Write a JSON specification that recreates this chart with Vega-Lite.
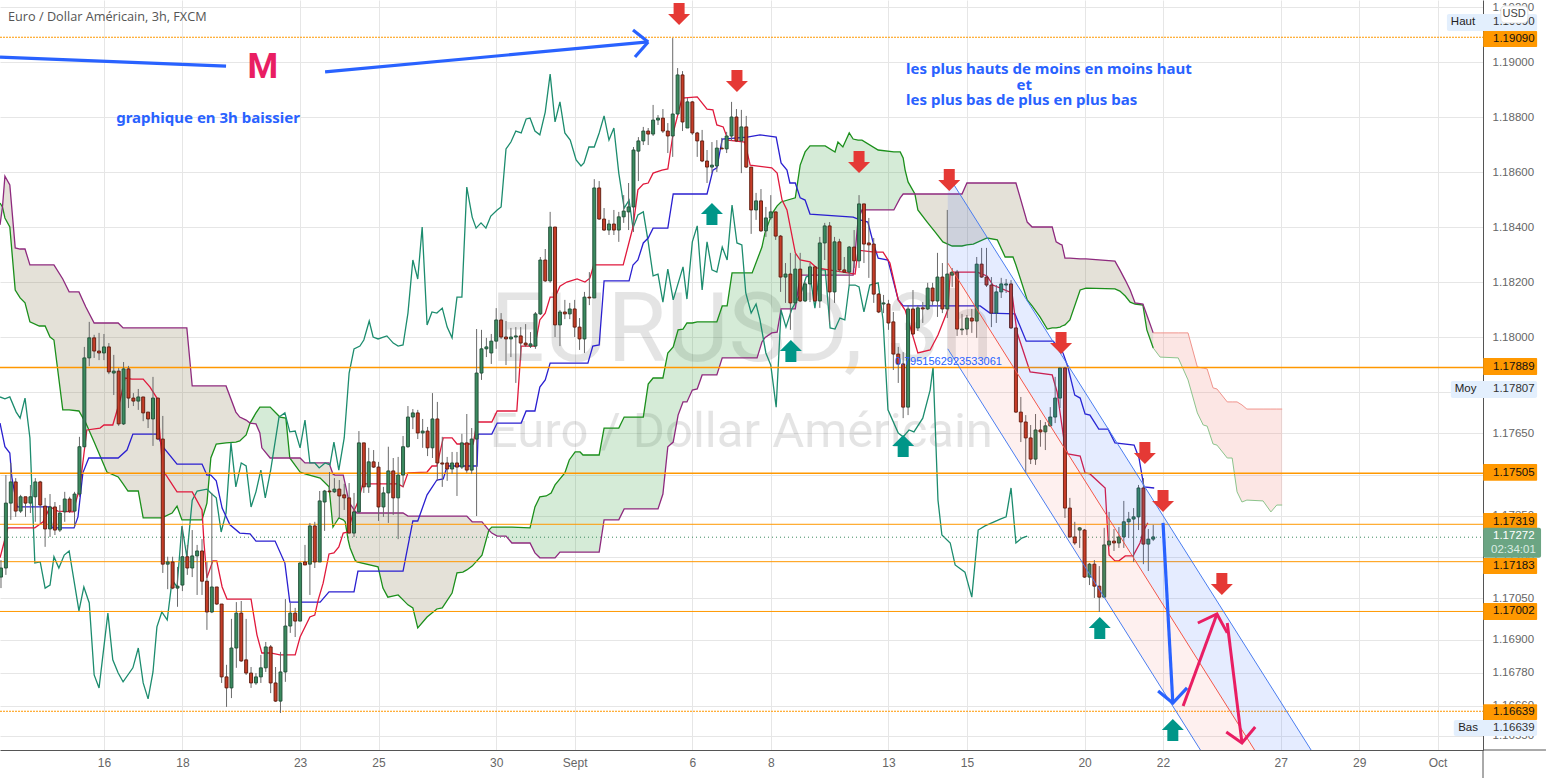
{
"$schema":"https://vega.github.io/schema/vega-lite/v6.json",
"width":1483,"height":750,"autosize":"none",
"padding":{"left":0,"top":0,"right":63,"bottom":28},
"background":"white",
"config":{"view":{"stroke":null},"font":"Liberation Sans"},
"datasets":{
"candles":[
{"i":-1,"o":1.17127,"h":1.17189,"l":1.17087,"c":1.1716},{"i":0,"o":1.1716,"h":1.17498,"l":1.17135,"c":1.17396},{"i":1,"o":1.17396,"h":1.17542,"l":1.17335,"c":1.17473},{"i":2,"o":1.17473,"h":1.17487,"l":1.17346,"c":1.17367},{"i":3,"o":1.17367,"h":1.17426,"l":1.1736,"c":1.17419},{"i":4,"o":1.17419,"h":1.17419,"l":1.17346,"c":1.17396},{"i":5,"o":1.17396,"h":1.17462,"l":1.1736,"c":1.17419},{"i":6,"o":1.17419,"h":1.17487,"l":1.17328,"c":1.17473},{"i":7,"o":1.17473,"h":1.17477,"l":1.17324,"c":1.17389},{"i":8,"o":1.17385,"h":1.17415,"l":1.17237,"c":1.17302},
{"i":9,"o":1.17302,"h":1.17429,"l":1.17273,"c":1.17382},{"i":10,"o":1.17382,"h":1.174,"l":1.1728,"c":1.17298},{"i":11,"o":1.17298,"h":1.17389,"l":1.17291,"c":1.1736},{"i":12,"o":1.17364,"h":1.17437,"l":1.17328,"c":1.17411},{"i":13,"o":1.17411,"h":1.17419,"l":1.1736,"c":1.17367},{"i":14,"o":1.17367,"h":1.17437,"l":1.1731,"c":1.17429},{"i":15,"o":1.17429,"h":1.17637,"l":1.17419,"c":1.17601},{"i":16,"o":1.17601,"h":1.17964,"l":1.17597,"c":1.17924},{"i":17,"o":1.17924,"h":1.18055,"l":1.17894,"c":1.17997},{"i":18,"o":1.17997,"h":1.18008,"l":1.17924,"c":1.17949},
{"i":19,"o":1.17949,"h":1.18015,"l":1.17916,"c":1.17942},{"i":20,"o":1.17942,"h":1.18011,"l":1.17916,"c":1.17964},{"i":21,"o":1.17964,"h":1.17978,"l":1.17865,"c":1.17873},{"i":22,"o":1.17869,"h":1.17935,"l":1.17789,"c":1.17876},{"i":23,"o":1.17876,"h":1.17887,"l":1.17677,"c":1.17684},{"i":24,"o":1.17684,"h":1.17909,"l":1.1768,"c":1.17884},{"i":25,"o":1.17884,"h":1.17895,"l":1.17742,"c":1.17778},{"i":26,"o":1.17778,"h":1.17796,"l":1.17749,"c":1.17767},{"i":27,"o":1.17767,"h":1.17811,"l":1.17735,"c":1.17782},{"i":28,"o":1.17782,"h":1.17782,"l":1.17694,"c":1.17724},
{"i":29,"o":1.17727,"h":1.17727,"l":1.17669,"c":1.17702},{"i":30,"o":1.17702,"h":1.17855,"l":1.17604,"c":1.17778},{"i":31,"o":1.17778,"h":1.17778,"l":1.17626,"c":1.17629},{"i":32,"o":1.17629,"h":1.17713,"l":1.17142,"c":1.17174},{"i":33,"o":1.17174,"h":1.17201,"l":1.17083,"c":1.17182},{"i":34,"o":1.17182,"h":1.17201,"l":1.17083,"c":1.17087},{"i":35,"o":1.17087,"h":1.17164,"l":1.17019,"c":1.17094},{"i":36,"o":1.17098,"h":1.1731,"l":1.17076,"c":1.17201},{"i":37,"o":1.17201,"h":1.17244,"l":1.17135,"c":1.1716},{"i":38,"o":1.1716,"h":1.17298,"l":1.17127,"c":1.17204},
{"i":39,"o":1.17204,"h":1.17244,"l":1.17062,"c":1.17222},{"i":40,"o":1.17222,"h":1.17265,"l":1.17062,"c":1.17112},{"i":41,"o":1.17112,"h":1.17182,"l":1.16935,"c":1.17},{"i":42,"o":1.17,"h":1.17433,"l":1.16996,"c":1.17091},{"i":43,"o":1.17091,"h":1.17091,"l":1.17026,"c":1.17029},{"i":44,"o":1.17029,"h":1.17029,"l":1.16742,"c":1.16764},{"i":45,"o":1.16764,"h":1.16808,"l":1.16655,"c":1.16724},{"i":46,"o":1.16724,"h":1.16975,"l":1.16687,"c":1.16869},{"i":47,"o":1.16869,"h":1.17036,"l":1.16797,"c":1.16996},{"i":48,"o":1.16996,"h":1.1704,"l":1.16819,"c":1.16822},
{"i":49,"o":1.16826,"h":1.16975,"l":1.16771,"c":1.16778},{"i":50,"o":1.16778,"h":1.168,"l":1.16724,"c":1.16742},{"i":51,"o":1.16742,"h":1.16778,"l":1.16735,"c":1.16764},{"i":52,"o":1.16764,"h":1.16844,"l":1.16742,"c":1.16797},{"i":53,"o":1.16797,"h":1.16891,"l":1.16782,"c":1.16873},{"i":54,"o":1.16873,"h":1.1688,"l":1.16705,"c":1.16742},{"i":55,"o":1.16742,"h":1.168,"l":1.16673,"c":1.16676},{"i":56,"o":1.16676,"h":1.16855,"l":1.16633,"c":1.16782},{"i":57,"o":1.16782,"h":1.17047,"l":1.16746,"c":1.16949},{"i":58,"o":1.16949,"h":1.17033,"l":1.16924,"c":1.16996},
{"i":59,"o":1.16996,"h":1.17015,"l":1.16909,"c":1.16967},{"i":60,"o":1.16967,"h":1.17182,"l":1.16967,"c":1.17178},{"i":61,"o":1.17182,"h":1.17244,"l":1.17171,"c":1.17171},{"i":62,"o":1.17174,"h":1.17324,"l":1.17062,"c":1.17313},{"i":63,"o":1.17313,"h":1.17328,"l":1.1716,"c":1.17182},{"i":64,"o":1.17182,"h":1.1744,"l":1.17182,"c":1.17404},{"i":65,"o":1.174,"h":1.17444,"l":1.17295,"c":1.1744},{"i":66,"o":1.1744,"h":1.17509,"l":1.17437,"c":1.17437},{"i":67,"o":1.17437,"h":1.17487,"l":1.17433,"c":1.17447},{"i":68,"o":1.17447,"h":1.1748,"l":1.17342,"c":1.17422},
{"i":69,"o":1.17426,"h":1.17466,"l":1.17371,"c":1.17415},{"i":70,"o":1.17415,"h":1.17469,"l":1.17287,"c":1.17287},{"i":71,"o":1.17287,"h":1.17433,"l":1.17273,"c":1.17364},{"i":72,"o":1.17364,"h":1.17658,"l":1.1736,"c":1.17615},{"i":73,"o":1.17615,"h":1.17615,"l":1.17433,"c":1.17455},{"i":74,"o":1.17455,"h":1.17597,"l":1.17433,"c":1.17546},{"i":75,"o":1.17546,"h":1.17589,"l":1.17524,"c":1.17527},{"i":76,"o":1.17527,"h":1.17546,"l":1.17331,"c":1.17382},{"i":77,"o":1.17382,"h":1.17455,"l":1.17346,"c":1.17433},{"i":78,"o":1.17433,"h":1.17601,"l":1.17324,"c":1.17513},
{"i":79,"o":1.17513,"h":1.1756,"l":1.17353,"c":1.17415},{"i":80,"o":1.17415,"h":1.17564,"l":1.17265,"c":1.17498},{"i":81,"o":1.17498,"h":1.1764,"l":1.17455,"c":1.17601},{"i":82,"o":1.17601,"h":1.17749,"l":1.17597,"c":1.17709},{"i":83,"o":1.17709,"h":1.17738,"l":1.17665,"c":1.17724},{"i":84,"o":1.17724,"h":1.17735,"l":1.17629,"c":1.17651},{"i":85,"o":1.17651,"h":1.17702,"l":1.17597,"c":1.17658},{"i":86,"o":1.17658,"h":1.17673,"l":1.17567,"c":1.17597},{"i":87,"o":1.17597,"h":1.17796,"l":1.1756,"c":1.17702},{"i":88,"o":1.17702,"h":1.17764,"l":1.17477,"c":1.17542},
{"i":89,"o":1.17542,"h":1.17637,"l":1.17455,"c":1.17538},{"i":90,"o":1.17542,"h":1.17564,"l":1.17477,"c":1.1752},{"i":91,"o":1.1752,"h":1.17582,"l":1.17502,"c":1.17542},{"i":92,"o":1.17542,"h":1.17582,"l":1.17422,"c":1.17527},{"i":93,"o":1.17527,"h":1.17648,"l":1.1752,"c":1.17615},{"i":94,"o":1.17615,"h":1.1772,"l":1.17506,"c":1.17516},{"i":95,"o":1.17516,"h":1.17669,"l":1.17502,"c":1.17629},{"i":96,"o":1.17629,"h":1.18029,"l":1.17349,"c":1.17869},{"i":97,"o":1.17869,"h":1.18026,"l":1.17844,"c":1.17957},{"i":98,"o":1.17957,"h":1.17997,"l":1.17927,"c":1.17964},
{"i":99,"o":1.17942,"h":1.18011,"l":1.17902,"c":1.17985},{"i":100,"o":1.17985,"h":1.18105,"l":1.17957,"c":1.18062},{"i":101,"o":1.18062,"h":1.18087,"l":1.17993,"c":1.18},{"i":102,"o":1.18,"h":1.18058,"l":1.17898,"c":1.17993},{"i":103,"o":1.17993,"h":1.18033,"l":1.17927,"c":1.18},{"i":104,"o":1.18,"h":1.18036,"l":1.17833,"c":1.18004},{"i":105,"o":1.18004,"h":1.18036,"l":1.17916,"c":1.17978},{"i":106,"o":1.17978,"h":1.18047,"l":1.17964,"c":1.17971},{"i":107,"o":1.17967,"h":1.18018,"l":1.1796,"c":1.17975},{"i":108,"o":1.17967,"h":1.18091,"l":1.17957,"c":1.18084},
{"i":109,"o":1.18084,"h":1.18291,"l":1.1808,"c":1.1828},{"i":110,"o":1.1828,"h":1.1832,"l":1.182,"c":1.18204},{"i":111,"o":1.18204,"h":1.18455,"l":1.18197,"c":1.184},{"i":112,"o":1.184,"h":1.184,"l":1.18,"c":1.18044},{"i":113,"o":1.18044,"h":1.18098,"l":1.17967,"c":1.18091},{"i":114,"o":1.18091,"h":1.18135,"l":1.18065,"c":1.18084},{"i":115,"o":1.18084,"h":1.18124,"l":1.18065,"c":1.18102},{"i":116,"o":1.18102,"h":1.18135,"l":1.18,"c":1.18036},{"i":117,"o":1.18036,"h":1.18069,"l":1.17953,"c":1.17993},{"i":118,"o":1.17993,"h":1.18164,"l":1.17942,"c":1.18145},
{"i":119,"o":1.18145,"h":1.18236,"l":1.18116,"c":1.18142},{"i":120,"o":1.18142,"h":1.18574,"l":1.18142,"c":1.18542},{"i":121,"o":1.18542,"h":1.18567,"l":1.18426,"c":1.18429},{"i":122,"o":1.18429,"h":1.18469,"l":1.18386,"c":1.18389},{"i":123,"o":1.18389,"h":1.18426,"l":1.18371,"c":1.18411},{"i":124,"o":1.18411,"h":1.18462,"l":1.18371,"c":1.18389},{"i":125,"o":1.18389,"h":1.18455,"l":1.18346,"c":1.18437},{"i":126,"o":1.18437,"h":1.18516,"l":1.18415,"c":1.18458},{"i":127,"o":1.18455,"h":1.1856,"l":1.18389,"c":1.18473},{"i":128,"o":1.18473,"h":1.18691,"l":1.18382,"c":1.1868},
{"i":129,"o":1.18676,"h":1.18727,"l":1.18567,"c":1.18713},{"i":130,"o":1.18713,"h":1.18764,"l":1.18698,"c":1.18749},{"i":131,"o":1.18749,"h":1.1876,"l":1.18698,"c":1.18738},{"i":132,"o":1.18738,"h":1.18844,"l":1.18731,"c":1.18789},{"i":133,"o":1.18789,"h":1.18807,"l":1.18771,"c":1.18796},{"i":134,"o":1.18796,"h":1.18829,"l":1.18742,"c":1.18749},{"i":135,"o":1.18749,"h":1.18778,"l":1.18669,"c":1.18731},{"i":136,"o":1.18731,"h":1.19087,"l":1.18655,"c":1.18811},{"i":137,"o":1.18811,"h":1.18978,"l":1.18807,"c":1.18953},{"i":138,"o":1.18953,"h":1.18967,"l":1.18749,"c":1.18782},
{"i":139,"o":1.1876,"h":1.18869,"l":1.1876,"c":1.18855},{"i":140,"o":1.18855,"h":1.18858,"l":1.18735,"c":1.18742},{"i":141,"o":1.18742,"h":1.18746,"l":1.18655,"c":1.18713},{"i":142,"o":1.18713,"h":1.18753,"l":1.18636,"c":1.1864},{"i":143,"o":1.1864,"h":1.1868,"l":1.1856,"c":1.18618},{"i":144,"o":1.18618,"h":1.18709,"l":1.18596,"c":1.18625},{"i":145,"o":1.18622,"h":1.18716,"l":1.186,"c":1.18687},{"i":146,"o":1.18687,"h":1.18724,"l":1.18684,"c":1.18684},{"i":147,"o":1.18684,"h":1.18746,"l":1.18669,"c":1.18731},{"i":148,"o":1.18731,"h":1.18855,"l":1.18713,"c":1.188},
{"i":149,"o":1.188,"h":1.18829,"l":1.18709,"c":1.18713},{"i":150,"o":1.18713,"h":1.18826,"l":1.18596,"c":1.18764},{"i":151,"o":1.18764,"h":1.18804,"l":1.18615,"c":1.18618},{"i":152,"o":1.18618,"h":1.18618,"l":1.18375,"c":1.18462},{"i":153,"o":1.18462,"h":1.18524,"l":1.18426,"c":1.18495},{"i":154,"o":1.18495,"h":1.18538,"l":1.18382,"c":1.18386},{"i":155,"o":1.18386,"h":1.18473,"l":1.18364,"c":1.18433},{"i":156,"o":1.18433,"h":1.18516,"l":1.18426,"c":1.18455},{"i":157,"o":1.18455,"h":1.18455,"l":1.18353,"c":1.18367},{"i":158,"o":1.18367,"h":1.18371,"l":1.18164,"c":1.18218},
{"i":159,"o":1.18218,"h":1.18269,"l":1.18124,"c":1.18229},{"i":160,"o":1.18229,"h":1.18306,"l":1.18026,"c":1.18124},{"i":161,"o":1.18124,"h":1.18302,"l":1.18116,"c":1.18247},{"i":162,"o":1.18247,"h":1.18306,"l":1.18127,"c":1.18131},{"i":163,"o":1.18131,"h":1.182,"l":1.18127,"c":1.18193},{"i":164,"o":1.18193,"h":1.18269,"l":1.18127,"c":1.18255},{"i":165,"o":1.18255,"h":1.18255,"l":1.18127,"c":1.18131},{"i":166,"o":1.18131,"h":1.18364,"l":1.18106,"c":1.18342},{"i":167,"o":1.18342,"h":1.18415,"l":1.1828,"c":1.18404},{"i":168,"o":1.18404,"h":1.18418,"l":1.18051,"c":1.18164},
{"i":169,"o":1.18164,"h":1.18364,"l":1.18124,"c":1.18346},{"i":170,"o":1.18346,"h":1.18357,"l":1.18236,"c":1.18244},{"i":171,"o":1.18244,"h":1.18291,"l":1.18233,"c":1.18236},{"i":172,"o":1.18236,"h":1.18331,"l":1.18189,"c":1.18327},{"i":173,"o":1.18327,"h":1.18389,"l":1.18251,"c":1.18277},{"i":174,"o":1.18277,"h":1.18516,"l":1.18251,"c":1.18484},{"i":175,"o":1.18484,"h":1.18484,"l":1.18269,"c":1.18338},{"i":176,"o":1.18342,"h":1.18433,"l":1.18215,"c":1.18335},{"i":177,"o":1.18338,"h":1.1836,"l":1.18124,"c":1.18156},{"i":178,"o":1.18156,"h":1.1816,"l":1.18087,"c":1.18091},
{"i":179,"o":1.1812,"h":1.18153,"l":1.18087,"c":1.18124},{"i":180,"o":1.1812,"h":1.18135,"l":1.18026,"c":1.18051},{"i":181,"o":1.18055,"h":1.18091,"l":1.1788,"c":1.17938},{"i":182,"o":1.17938,"h":1.17964,"l":1.17833,"c":1.17902},{"i":183,"o":1.17902,"h":1.17945,"l":1.17705,"c":1.17745},{"i":184,"o":1.17745,"h":1.18116,"l":1.17716,"c":1.18102},{"i":185,"o":1.18102,"h":1.18171,"l":1.18007,"c":1.18011},{"i":186,"o":1.18033,"h":1.18116,"l":1.18022,"c":1.18106},{"i":187,"o":1.18106,"h":1.18127,"l":1.18051,"c":1.18102},{"i":188,"o":1.18102,"h":1.18197,"l":1.18098,"c":1.18178},
{"i":189,"o":1.18178,"h":1.18197,"l":1.18116,"c":1.18131},{"i":190,"o":1.18131,"h":1.18306,"l":1.18073,"c":1.18218},{"i":191,"o":1.18218,"h":1.18269,"l":1.18087,"c":1.18102},{"i":192,"o":1.18102,"h":1.18462,"l":1.18069,"c":1.18229},{"i":193,"o":1.18225,"h":1.18251,"l":1.18182,"c":1.18236},{"i":194,"o":1.18236,"h":1.18244,"l":1.18004,"c":1.18029},{"i":195,"o":1.18026,"h":1.18084,"l":1.18007,"c":1.18029},{"i":196,"o":1.18029,"h":1.1808,"l":1.18007,"c":1.18069},{"i":197,"o":1.18069,"h":1.18102,"l":1.18015,"c":1.18058},{"i":198,"o":1.18058,"h":1.18291,"l":1.17997,"c":1.18265},
{"i":199,"o":1.18265,"h":1.18324,"l":1.18215,"c":1.18218},{"i":200,"o":1.18218,"h":1.18324,"l":1.18182,"c":1.18189},{"i":201,"o":1.18189,"h":1.18218,"l":1.18036,"c":1.18087},{"i":202,"o":1.18087,"h":1.18189,"l":1.18051,"c":1.18164},{"i":203,"o":1.18164,"h":1.18215,"l":1.18142,"c":1.18193},{"i":204,"o":1.18189,"h":1.18211,"l":1.1816,"c":1.18193},{"i":205,"o":1.18193,"h":1.18207,"l":1.18029,"c":1.18033},{"i":206,"o":1.18033,"h":1.18033,"l":1.17724,"c":1.17727},{"i":207,"o":1.17727,"h":1.17782,"l":1.17618,"c":1.17691},{"i":208,"o":1.17691,"h":1.17716,"l":1.17506,"c":1.17633},
{"i":209,"o":1.17633,"h":1.1768,"l":1.17538,"c":1.17556},{"i":210,"o":1.17556,"h":1.1772,"l":1.17535,"c":1.17662},{"i":211,"o":1.17662,"h":1.17698,"l":1.17601,"c":1.17655},{"i":212,"o":1.17655,"h":1.17691,"l":1.17589,"c":1.17677},{"i":213,"o":1.17677,"h":1.17745,"l":1.17673,"c":1.17709},{"i":214,"o":1.17709,"h":1.17855,"l":1.17687,"c":1.17778},{"i":215,"o":1.17778,"h":1.17887,"l":1.17742,"c":1.17887},{"i":216,"o":1.17887,"h":1.17891,"l":1.17342,"c":1.17378},{"i":217,"o":1.17378,"h":1.17415,"l":1.17269,"c":1.17273},{"i":218,"o":1.17273,"h":1.17328,"l":1.17244,"c":1.17251},
{"i":219,"o":1.17298,"h":1.17309,"l":1.17233,"c":1.17306},{"i":220,"o":1.17298,"h":1.17302,"l":1.17124,"c":1.17127},{"i":221,"o":1.17127,"h":1.17178,"l":1.17098,"c":1.17174},{"i":222,"o":1.17174,"h":1.17189,"l":1.17051,"c":1.17094},{"i":223,"o":1.17094,"h":1.17167,"l":1.17,"c":1.17054},{"i":224,"o":1.17054,"h":1.17306,"l":1.17054,"c":1.17244},{"i":225,"o":1.17244,"h":1.17364,"l":1.17237,"c":1.17258},{"i":226,"o":1.17258,"h":1.17302,"l":1.17222,"c":1.17251},{"i":227,"o":1.17251,"h":1.17309,"l":1.17233,"c":1.17273},{"i":228,"o":1.17273,"h":1.17404,"l":1.17233,"c":1.17328},
{"i":229,"o":1.17328,"h":1.17364,"l":1.17269,"c":1.17338},{"i":230,"o":1.17338,"h":1.17378,"l":1.17182,"c":1.17346},{"i":231,"o":1.17346,"h":1.17462,"l":1.17298,"c":1.17451},{"i":232,"o":1.17451,"h":1.17487,"l":1.17174,"c":1.17247},{"i":233,"o":1.17247,"h":1.17302,"l":1.17149,"c":1.17265},{"i":234,"o":1.17265,"h":1.17317,"l":1.17258,"c":1.17273}
],
"cloud":[
{"k":-1.2,"a":1.18487,"b":1.18408,"seg":"bull0"},{"k":-0.7,"a":1.18473,"b":1.18473,"seg":"bull0"},
{"k":-0.7,"a":1.18473,"b":1.18473,"seg":"bear1"},{"k":-0.2,"a":1.18433,"b":1.18585,"seg":"bear1"},{"k":0.8,"a":1.184,"b":1.18553,"seg":"bear1"},{"k":1.9,"a":1.18171,"b":1.18324,"seg":"bear1"},{"k":2.9,"a":1.18142,"b":1.1832,"seg":"bear1"},{"k":3.9,"a":1.18124,"b":1.1832,"seg":"bear1"},{"k":4.9,"a":1.18055,"b":1.18262,"seg":"bear1"},{"k":6.8,"a":1.1804,"b":1.18262,"seg":"bear1"},{"k":8,"a":1.1804,"b":1.18262,"seg":"bear1"},{"k":9,"a":1.18,"b":1.18262,"seg":"bear1"},{"k":9.8,"a":1.17989,"b":1.18262,"seg":"bear1"},{"k":11.6,"a":1.17735,"b":1.18211,"seg":"bear1"},{"k":12.9,"a":1.17735,"b":1.18164,"seg":"bear1"},{"k":14.9,"a":1.17731,"b":1.18164,"seg":"bear1"},{"k":16.3,"a":1.17687,"b":1.18109,"seg":"bear1"},{"k":18,"a":1.17618,"b":1.18051,"seg":"bear1"},{"k":20.6,"a":1.17509,"b":1.18051,"seg":"bear1"},{"k":22.9,"a":1.17491,"b":1.18051,"seg":"bear1"},{"k":23.9,"a":1.17466,"b":1.18033,"seg":"bear1"},{"k":24.9,"a":1.1744,"b":1.18033,"seg":"bear1"},{"k":27,"a":1.1744,"b":1.18033,"seg":"bear1"},{"k":28,"a":1.17342,"b":1.18033,"seg":"bear1"},{"k":31.8,"a":1.17342,"b":1.18033,"seg":"bear1"},{"k":33.9,"a":1.1736,"b":1.18033,"seg":"bear1"},{"k":34.9,"a":1.17385,"b":1.18033,"seg":"bear1"},{"k":35.9,"a":1.17335,"b":1.18033,"seg":"bear1"},{"k":36.9,"a":1.17335,"b":1.18033,"seg":"bear1"},{"k":38,"a":1.17335,"b":1.17822,"seg":"bear1"},{"k":40,"a":1.17335,"b":1.17822,"seg":"bear1"},{"k":41,"a":1.17396,"b":1.17822,"seg":"bear1"},{"k":41.8,"a":1.1756,"b":1.17822,"seg":"bear1"},{"k":42.9,"a":1.17611,"b":1.17822,"seg":"bear1"},{"k":44.9,"a":1.17615,"b":1.17822,"seg":"bear1"},{"k":46.9,"a":1.17618,"b":1.17727,"seg":"bear1"},{"k":47.7,"a":1.17622,"b":1.17709,"seg":"bear1"},{"k":49,"a":1.17644,"b":1.17698,"seg":"bear1"},{"k":49.8,"a":1.17687,"b":1.17687,"seg":"bear1"},
{"k":49.8,"a":1.17687,"b":1.17687,"seg":"bull1"},{"k":51,"a":1.17724,"b":1.17684,"seg":"bull1"},{"k":51.8,"a":1.17745,"b":1.17651,"seg":"bull1"},{"k":52.2,"a":1.17745,"b":1.17597,"seg":"bull1"},{"k":53.9,"a":1.17745,"b":1.1756,"seg":"bull1"},{"k":55.9,"a":1.17709,"b":1.1756,"seg":"bull1"},{"k":57.1,"a":1.17705,"b":1.1756,"seg":"bull1"},{"k":57.9,"a":1.1756,"b":1.1756,"seg":"bull1"},
{"k":57.9,"a":1.1756,"b":1.1756,"seg":"bear2"},{"k":60,"a":1.17509,"b":1.1756,"seg":"bear2"},{"k":61,"a":1.17502,"b":1.17542,"seg":"bear2"},{"k":64.1,"a":1.17487,"b":1.17542,"seg":"bear2"},{"k":65.9,"a":1.17455,"b":1.17542,"seg":"bear2"},{"k":66.7,"a":1.17309,"b":1.17502,"seg":"bear2"},{"k":67.1,"a":1.1732,"b":1.17498,"seg":"bear2"},{"k":67.9,"a":1.17342,"b":1.17498,"seg":"bear2"},{"k":68.8,"a":1.17335,"b":1.17498,"seg":"bear2"},{"k":69.2,"a":1.17328,"b":1.17466,"seg":"bear2"},{"k":69.8,"a":1.17262,"b":1.17415,"seg":"bear2"},{"k":70.2,"a":1.17233,"b":1.17393,"seg":"bear2"},{"k":71.2,"a":1.17189,"b":1.17367,"seg":"bear2"},{"k":71.6,"a":1.17182,"b":1.1736,"seg":"bear2"},{"k":75.9,"a":1.17164,"b":1.1736,"seg":"bear2"},{"k":76.9,"a":1.17087,"b":1.1736,"seg":"bear2"},{"k":77.9,"a":1.17054,"b":1.1736,"seg":"bear2"},{"k":80,"a":1.17062,"b":1.1736,"seg":"bear2"},{"k":81,"a":1.17044,"b":1.1736,"seg":"bear2"},{"k":82,"a":1.17026,"b":1.17349,"seg":"bear2"},{"k":83,"a":1.17015,"b":1.17349,"seg":"bear2"},{"k":84,"a":1.16942,"b":1.17349,"seg":"bear2"},{"k":85.9,"a":1.16982,"b":1.17349,"seg":"bear2"},{"k":87.9,"a":1.17011,"b":1.17349,"seg":"bear2"},{"k":89,"a":1.17015,"b":1.17349,"seg":"bear2"},{"k":91,"a":1.17069,"b":1.17349,"seg":"bear2"},{"k":92,"a":1.17142,"b":1.17349,"seg":"bear2"},{"k":93.2,"a":1.17145,"b":1.17349,"seg":"bear2"},{"k":94,"a":1.17153,"b":1.17349,"seg":"bear2"},{"k":95.1,"a":1.17167,"b":1.17328,"seg":"bear2"},{"k":97.1,"a":1.17207,"b":1.17328,"seg":"bear2"},{"k":98.5,"a":1.17298,"b":1.17298,"seg":"bear2"},
{"k":98.5,"a":1.17298,"b":1.17298,"seg":"bull2"},{"k":99.1,"a":1.17309,"b":1.17287,"seg":"bull2"},{"k":100.2,"a":1.17309,"b":1.17276,"seg":"bull2"},{"k":102,"a":1.17309,"b":1.17276,"seg":"bull2"},{"k":103.2,"a":1.17309,"b":1.17251,"seg":"bull2"},{"k":106.9,"a":1.17306,"b":1.17251,"seg":"bull2"},{"k":107.9,"a":1.17382,"b":1.17215,"seg":"bull2"},{"k":108.9,"a":1.17419,"b":1.17197,"seg":"bull2"},{"k":110.2,"a":1.17422,"b":1.17197,"seg":"bull2"},{"k":111.2,"a":1.17433,"b":1.17197,"seg":"bull2"},{"k":112,"a":1.17462,"b":1.17197,"seg":"bull2"},{"k":113,"a":1.17484,"b":1.17218,"seg":"bull2"},{"k":114,"a":1.17506,"b":1.17218,"seg":"bull2"},{"k":114.9,"a":1.17553,"b":1.17218,"seg":"bull2"},{"k":116.1,"a":1.17582,"b":1.17218,"seg":"bull2"},{"k":117.1,"a":1.17582,"b":1.17218,"seg":"bull2"},{"k":117.7,"a":1.17571,"b":1.17218,"seg":"bull2"},{"k":121,"a":1.17571,"b":1.17218,"seg":"bull2"},{"k":122,"a":1.17669,"b":1.17335,"seg":"bull2"},{"k":125,"a":1.17669,"b":1.17335,"seg":"bull2"},{"k":126.1,"a":1.17709,"b":1.17375,"seg":"bull2"},{"k":130,"a":1.17709,"b":1.17375,"seg":"bull2"},{"k":131,"a":1.17829,"b":1.17375,"seg":"bull2"},{"k":132,"a":1.17851,"b":1.17375,"seg":"bull2"},{"k":133,"a":1.17851,"b":1.17375,"seg":"bull2"},{"k":134,"a":1.17851,"b":1.17429,"seg":"bull2"},{"k":135,"a":1.17942,"b":1.17601,"seg":"bull2"},{"k":136.1,"a":1.17964,"b":1.17618,"seg":"bull2"},{"k":137.1,"a":1.18026,"b":1.17716,"seg":"bull2"},{"k":138.1,"a":1.18029,"b":1.17764,"seg":"bull2"},{"k":138.9,"a":1.18051,"b":1.17764,"seg":"bull2"},{"k":140,"a":1.18051,"b":1.17807,"seg":"bull2"},{"k":141,"a":1.18055,"b":1.17811,"seg":"bull2"},{"k":142,"a":1.18055,"b":1.17862,"seg":"bull2"},{"k":145,"a":1.18055,"b":1.17862,"seg":"bull2"},{"k":146.1,"a":1.18113,"b":1.17924,"seg":"bull2"},{"k":147.1,"a":1.18113,"b":1.17924,"seg":"bull2"},{"k":148.1,"a":1.18233,"b":1.17924,"seg":"bull2"},{"k":152.2,"a":1.18233,"b":1.17924,"seg":"bull2"},{"k":153.2,"a":1.1828,"b":1.17924,"seg":"bull2"},{"k":154.2,"a":1.18327,"b":1.17982,"seg":"bull2"},{"k":154.8,"a":1.18378,"b":1.17997,"seg":"bull2"},{"k":156.2,"a":1.18447,"b":1.18015,"seg":"bull2"},{"k":157.3,"a":1.18477,"b":1.18018,"seg":"bull2"},{"k":158.1,"a":1.18491,"b":1.18102,"seg":"bull2"},{"k":161,"a":1.18506,"b":1.18102,"seg":"bull2"},{"k":162,"a":1.18625,"b":1.18225,"seg":"bull2"},{"k":163,"a":1.18673,"b":1.18225,"seg":"bull2"},{"k":164,"a":1.18695,"b":1.18225,"seg":"bull2"},{"k":167.1,"a":1.18695,"b":1.18225,"seg":"bull2"},{"k":169.1,"a":1.18673,"b":1.18225,"seg":"bull2"},{"k":169.7,"a":1.18709,"b":1.18225,"seg":"bull2"},{"k":170.7,"a":1.18691,"b":1.18225,"seg":"bull2"},{"k":172,"a":1.18742,"b":1.18225,"seg":"bull2"},{"k":172.8,"a":1.1872,"b":1.18225,"seg":"bull2"},{"k":173.8,"a":1.18716,"b":1.18426,"seg":"bull2"},{"k":174.6,"a":1.18716,"b":1.18462,"seg":"bull2"},{"k":177.9,"a":1.1868,"b":1.18462,"seg":"bull2"},{"k":181.1,"a":1.18673,"b":1.18462,"seg":"bull2"},{"k":182.4,"a":1.18673,"b":1.18506,"seg":"bull2"},{"k":183,"a":1.18651,"b":1.1852,"seg":"bull2"},{"k":183.4,"a":1.18607,"b":1.1852,"seg":"bull2"},{"k":184,"a":1.18564,"b":1.1852,"seg":"bull2"},{"k":185.4,"a":1.1852,"b":1.1852,"seg":"bull2"},
{"k":185.4,"a":1.1852,"b":1.1852,"seg":"bear3"},{"k":186,"a":1.18462,"b":1.1852,"seg":"bear3"},{"k":187.9,"a":1.18418,"b":1.1852,"seg":"bear3"},{"k":189.5,"a":1.18382,"b":1.1852,"seg":"bear3"},{"k":191.1,"a":1.18346,"b":1.1852,"seg":"bear3"},{"k":193,"a":1.18331,"b":1.1852,"seg":"bear3"},{"k":195,"a":1.18331,"b":1.1852,"seg":"bear3"},{"k":196,"a":1.18335,"b":1.1856,"seg":"bear3"},{"k":197.3,"a":1.18338,"b":1.1856,"seg":"bear3"},{"k":200.1,"a":1.1836,"b":1.1856,"seg":"bear3"},{"k":202.2,"a":1.18353,"b":1.1856,"seg":"bear3"},{"k":203.8,"a":1.18291,"b":1.1856,"seg":"bear3"},{"k":205.4,"a":1.18291,"b":1.1856,"seg":"bear3"},{"k":206,"a":1.18262,"b":1.1856,"seg":"bear3"},{"k":208.3,"a":1.18135,"b":1.18418,"seg":"bear3"},{"k":209.3,"a":1.18113,"b":1.184,"seg":"bear3"},{"k":210.9,"a":1.18073,"b":1.184,"seg":"bear3"},{"k":212.4,"a":1.18029,"b":1.184,"seg":"bear3"},{"k":213.4,"a":1.18033,"b":1.184,"seg":"bear3"},{"k":214.2,"a":1.18033,"b":1.18346,"seg":"bear3"},{"k":215,"a":1.18036,"b":1.18338,"seg":"bear3"},{"k":215.4,"a":1.1804,"b":1.18335,"seg":"bear3"},{"k":216,"a":1.18044,"b":1.18287,"seg":"bear3"},{"k":217,"a":1.18062,"b":1.18287,"seg":"bear3"},{"k":219.1,"a":1.18171,"b":1.18284,"seg":"bear3"},{"k":220.3,"a":1.18178,"b":1.18284,"seg":"bear3"},{"k":226.2,"a":1.18175,"b":1.18276,"seg":"bear3"},{"k":227.2,"a":1.18167,"b":1.18244,"seg":"bear3"},{"k":228.3,"a":1.18149,"b":1.18207,"seg":"bear3"},{"k":229.3,"a":1.18127,"b":1.18171,"seg":"bear3"},{"k":230.3,"a":1.1812,"b":1.18124,"seg":"bear3"},{"k":231.9,"a":1.18116,"b":1.1812,"seg":"bear3"},{"k":232.7,"a":1.18026,"b":1.1808,"seg":"bear3"},{"k":234,"a":1.1796,"b":1.18015,"seg":"bear3"},
{"k":234,"a":1.1796,"b":1.18015,"seg":"fut"},{"k":235.4,"a":1.17927,"b":1.18015,"seg":"fut"},{"k":239.1,"a":1.17924,"b":1.18015,"seg":"fut"},{"k":241.1,"a":1.17844,"b":1.18015,"seg":"fut"},{"k":243,"a":1.17724,"b":1.17891,"seg":"fut"},{"k":244.2,"a":1.1768,"b":1.17887,"seg":"fut"},{"k":245,"a":1.17676,"b":1.17884,"seg":"fut"},{"k":246.2,"a":1.17611,"b":1.17815,"seg":"fut"},{"k":247,"a":1.17607,"b":1.17811,"seg":"fut"},{"k":249.1,"a":1.1756,"b":1.17764,"seg":"fut"},{"k":250.1,"a":1.1756,"b":1.17764,"seg":"fut"},{"k":251.1,"a":1.17437,"b":1.17764,"seg":"fut"},{"k":252.1,"a":1.174,"b":1.17753,"seg":"fut"},{"k":253.1,"a":1.17407,"b":1.17738,"seg":"fut"},{"k":256.4,"a":1.17404,"b":1.17738,"seg":"fut"},{"k":258,"a":1.17364,"b":1.17738,"seg":"fut"},{"k":259.2,"a":1.17389,"b":1.17738,"seg":"fut"},{"k":260.3,"a":1.17389,"b":1.17738,"seg":"fut"}
],
"tenkan":[
{"k":-1.2,"p":1.17197},{"k":0.4,"p":1.17306},{"k":5.9,"p":1.17306},{"k":7.6,"p":1.17328},{"k":9,"p":1.17382},{"k":10.6,"p":1.17367},{"k":13.7,"p":1.17364},{"k":15.1,"p":1.17455},{"k":16.5,"p":1.17662},{"k":19.2,"p":1.17669},{"k":20,"p":1.1768},{"k":21.8,"p":1.1768},{"k":23.3,"p":1.17771},{"k":24.3,"p":1.17851},{"k":25.7,"p":1.17847},{"k":28,"p":1.17847},{"k":29.4,"p":1.17818},{"k":30.8,"p":1.17778},{"k":31.4,"p":1.17651},{"k":32,"p":1.17516},{"k":34.9,"p":1.17437},{"k":38,"p":1.17437},{"k":40,"p":1.17371},{"k":40.4,"p":1.17251},{"k":41,"p":1.17124},{"k":42.2,"p":1.17186},{"k":43,"p":1.17186},{"k":44.1,"p":1.17091},{"k":45.1,"p":1.17047},{"k":50,"p":1.17047},{"k":51.2,"p":1.16917},{"k":52.2,"p":1.16851},{"k":53.9,"p":1.16851},{"k":55.9,"p":1.16844},{"k":59,"p":1.16844},{"k":60,"p":1.16909},{"k":62,"p":1.16982},{"k":63,"p":1.16989},{"k":63.7,"p":1.17044},{"k":64.7,"p":1.17105},{"k":65.9,"p":1.17211},{"k":66.9,"p":1.17215},{"k":67.9,"p":1.17237},{"k":68.8,"p":1.17287},{"k":69.8,"p":1.17291},{"k":70.8,"p":1.1736},{"k":71.8,"p":1.174},{"k":72.8,"p":1.17466},{"k":80,"p":1.17466},{"k":81,"p":1.17455},{"k":82,"p":1.17506},{"k":85.9,"p":1.17509},{"k":86.9,"p":1.17531},{"k":87.9,"p":1.17531},{"k":89.2,"p":1.17633},{"k":91,"p":1.17633},{"k":92,"p":1.17611},{"k":95.3,"p":1.17611},{"k":96.1,"p":1.17691},{"k":99.1,"p":1.17691},{"k":100.2,"p":1.17731},{"k":104.2,"p":1.17731},{"k":105.1,"p":1.17967},{"k":107.9,"p":1.17967},{"k":108.9,"p":1.18062},{"k":110,"p":1.18087},{"k":111,"p":1.18145},{"k":112,"p":1.18145},{"k":113,"p":1.18185},{"k":114.4,"p":1.182},{"k":116.5,"p":1.18211},{"k":118.1,"p":1.182},{"k":119.1,"p":1.18214},{"k":119.9,"p":1.18262},{"k":125.9,"p":1.18262},{"k":127.9,"p":1.184},{"k":128.9,"p":1.18535},{"k":130,"p":1.18556},{"k":131,"p":1.1856},{"k":132,"p":1.18596},{"k":133.8,"p":1.18607},{"k":135,"p":1.18611},{"k":136.1,"p":1.18742},{"k":137.9,"p":1.18869},{"k":141,"p":1.18873},{"k":143,"p":1.18829},{"k":144.2,"p":1.18826},{"k":145,"p":1.18771},{"k":146.3,"p":1.18764},{"k":147.3,"p":1.18716},{"k":150.7,"p":1.18709},{"k":151.8,"p":1.18625},{"k":156.2,"p":1.18615},{"k":157.3,"p":1.18596},{"k":158.3,"p":1.18498},{"k":159.3,"p":1.18462},{"k":161,"p":1.18306},{"k":162,"p":1.1828},{"k":164,"p":1.18273},{"k":165.4,"p":1.18251},{"k":173.2,"p":1.18229},{"k":173.8,"p":1.18316},{"k":177.1,"p":1.18309},{"k":178.9,"p":1.18309},{"k":180.3,"p":1.18269},{"k":182,"p":1.18135},{"k":183.4,"p":1.18098},{"k":186,"p":1.17942},{"k":188.5,"p":1.17953},{"k":190.1,"p":1.18007},{"k":192.1,"p":1.18098},{"k":192.6,"p":1.18233},{"k":193.4,"p":1.18236},{"k":198.1,"p":1.18236},{"k":200.1,"p":1.18222},{"k":201.3,"p":1.18189},{"k":205.2,"p":1.1816},{"k":206.2,"p":1.18018},{"k":208.9,"p":1.17873},{"k":213.4,"p":1.17862},{"k":214.4,"p":1.178},{"k":216,"p":1.17601},{"k":216.6,"p":1.17575},{"k":219.1,"p":1.17567},{"k":220.1,"p":1.17506},{"k":221.1,"p":1.17502},{"k":224.2,"p":1.17451},{"k":224.6,"p":1.17324},{"k":225,"p":1.17207},{"k":226.2,"p":1.17186},{"k":227,"p":1.17186},{"k":228.3,"p":1.17204},{"k":229.9,"p":1.17204},{"k":231.3,"p":1.17251},{"k":232.1,"p":1.17298},{"k":232.9,"p":1.17324}
],
"kijun":[
{"k":-1.2,"p":1.17687},{"k":-0.2,"p":1.17601},{"k":0.8,"p":1.17578},{"k":1.2,"p":1.17491},{"k":2.3,"p":1.17382},{"k":9,"p":1.17382},{"k":9.4,"p":1.17306},{"k":13.9,"p":1.17306},{"k":14.7,"p":1.17346},{"k":15.7,"p":1.17506},{"k":16.9,"p":1.1756},{"k":22.9,"p":1.1756},{"k":24.7,"p":1.17589},{"k":25.9,"p":1.17647},{"k":30.8,"p":1.17647},{"k":32,"p":1.17601},{"k":34.9,"p":1.17538},{"k":40,"p":1.17538},{"k":41,"p":1.17498},{"k":41.8,"p":1.17498},{"k":42.9,"p":1.17477},{"k":44.1,"p":1.17378},{"k":45.7,"p":1.17317},{"k":47.7,"p":1.17287},{"k":49.8,"p":1.17284},{"k":51,"p":1.17258},{"k":54.9,"p":1.17258},{"k":56.9,"p":1.17178},{"k":57.9,"p":1.17036},{"k":64.1,"p":1.17036},{"k":65.9,"p":1.17073},{"k":71,"p":1.17073},{"k":71.8,"p":1.17149},{"k":81,"p":1.17149},{"k":83,"p":1.17331},{"k":84,"p":1.17331},{"k":85.9,"p":1.17426},{"k":87.9,"p":1.1748},{"k":89.2,"p":1.17484},{"k":90,"p":1.17531},{"k":96.1,"p":1.17531},{"k":96.3,"p":1.17647},{"k":99.1,"p":1.17647},{"k":100.2,"p":1.17687},{"k":105.1,"p":1.17687},{"k":106.1,"p":1.17731},{"k":107.9,"p":1.17731},{"k":108.9,"p":1.17818},{"k":110,"p":1.17844},{"k":111,"p":1.17905},{"k":118.7,"p":1.17905},{"k":119.7,"p":1.17967},{"k":121,"p":1.17971},{"k":122,"p":1.18204},{"k":127.1,"p":1.18204},{"k":127.9,"p":1.18262},{"k":128.9,"p":1.1828},{"k":130,"p":1.18342},{"k":131,"p":1.1836},{"k":132,"p":1.18396},{"k":135,"p":1.18396},{"k":136.1,"p":1.1852},{"k":143,"p":1.1852},{"k":144.2,"p":1.18607},{"k":145,"p":1.18615},{"k":146.1,"p":1.1872},{"k":151.2,"p":1.18727},{"k":153.8,"p":1.18735},{"k":157.1,"p":1.18727},{"k":158.1,"p":1.18633},{"k":159.3,"p":1.18607},{"k":159.9,"p":1.1856},{"k":161,"p":1.1856},{"k":162,"p":1.18506},{"k":163,"p":1.18498},{"k":164,"p":1.18447},{"k":172.8,"p":1.18436},{"k":174.2,"p":1.18426},{"k":175.8,"p":1.18418},{"k":176.9,"p":1.18342},{"k":177.9,"p":1.18287},{"k":179.9,"p":1.1828},{"k":182,"p":1.18135},{"k":183,"p":1.18113},{"k":198.7,"p":1.18113},{"k":200.7,"p":1.18087},{"k":205.8,"p":1.18084},{"k":208.1,"p":1.17985},{"k":213.6,"p":1.17985},{"k":215.6,"p":1.17942},{"k":216.6,"p":1.17891},{"k":218,"p":1.17789},{"k":219.1,"p":1.17778},{"k":220.1,"p":1.1772},{"k":221.1,"p":1.17716},{"k":222.9,"p":1.17665},{"k":224.8,"p":1.17665},{"k":226.2,"p":1.17615},{"k":230.1,"p":1.17607},{"k":231.1,"p":1.1756},{"k":232.1,"p":1.17455},{"k":234.2,"p":1.17451}
],
"chikou":[
{"k":-1.2,"p":1.17782},{"k":-0.2,"p":1.17775},{"k":0.8,"p":1.17782},{"k":2.1,"p":1.17727},{"k":2.9,"p":1.17705},{"k":3.9,"p":1.17778},{"k":4.9,"p":1.17633},{"k":5.9,"p":1.17178},{"k":7,"p":1.17182},{"k":8,"p":1.17087},{"k":9,"p":1.17098},{"k":9.8,"p":1.17201},{"k":10.8,"p":1.1716},{"k":11.9,"p":1.17207},{"k":12.9,"p":1.17222},{"k":14.9,"p":1.17004},{"k":15.9,"p":1.17091},{"k":17,"p":1.17033},{"k":18,"p":1.16771},{"k":19,"p":1.16724},{"k":20.8,"p":1.16996},{"k":21.8,"p":1.16826},{"k":22.9,"p":1.16778},{"k":23.9,"p":1.16746},{"k":25.9,"p":1.16797},{"k":27,"p":1.16869},{"k":28,"p":1.16742},{"k":29,"p":1.16684},{"k":30,"p":1.16782},{"k":30.8,"p":1.16946},{"k":31.8,"p":1.17},{"k":32.9,"p":1.16971},{"k":33.9,"p":1.17116},{"k":34.9,"p":1.17091},{"k":35.9,"p":1.17313},{"k":36.9,"p":1.17201},{"k":38,"p":1.17407},{"k":39,"p":1.1744},{"k":41,"p":1.17447},{"k":42,"p":1.17429},{"k":42.9,"p":1.17415},{"k":43.9,"p":1.17291},{"k":44.9,"p":1.1736},{"k":45.9,"p":1.17615},{"k":46.9,"p":1.17455},{"k":48,"p":1.17542},{"k":49,"p":1.17531},{"k":50,"p":1.17382},{"k":51,"p":1.17437},{"k":52,"p":1.17516},{"k":52.9,"p":1.17415},{"k":54,"p":1.17516},{"k":55.7,"p":1.17709},{"k":56.9,"p":1.17724},{"k":57.9,"p":1.17655},{"k":59,"p":1.17658},{"k":60,"p":1.17597},{"k":61,"p":1.17698},{"k":62,"p":1.17542},{"k":63,"p":1.17542},{"k":63.9,"p":1.17524},{"k":65.1,"p":1.17542},{"k":66.1,"p":1.17535},{"k":66.9,"p":1.17618},{"k":67.9,"p":1.17516},{"k":69,"p":1.17633},{"k":70,"p":1.17869},{"k":71,"p":1.17957},{"k":72.2,"p":1.17967},{"k":73,"p":1.17989},{"k":74.1,"p":1.18058},{"k":74.9,"p":1.18},{"k":75.9,"p":1.17993},{"k":77.7,"p":1.18004},{"k":79,"p":1.17978},{"k":80,"p":1.17967},{"k":81,"p":1.17971},{"k":82,"p":1.18087},{"k":83,"p":1.1828},{"k":84,"p":1.18211},{"k":84.9,"p":1.184},{"k":85.9,"p":1.18044},{"k":86.9,"p":1.18091},{"k":87.9,"p":1.18087},{"k":89,"p":1.18105},{"k":90,"p":1.18036},{"k":91,"p":1.17997},{"k":92,"p":1.18145},{"k":93,"p":1.18145},{"k":94,"p":1.18545},{"k":95.1,"p":1.18436},{"k":95.9,"p":1.18396},{"k":96.9,"p":1.18415},{"k":97.9,"p":1.18396},{"k":98.9,"p":1.1844},{"k":100.2,"p":1.18462},{"k":101,"p":1.18473},{"k":102,"p":1.18684},{"k":103,"p":1.18709},{"k":104,"p":1.18749},{"k":105.1,"p":1.18742},{"k":106.1,"p":1.18793},{"k":106.9,"p":1.18796},{"k":107.9,"p":1.18749},{"k":108.9,"p":1.18735},{"k":110,"p":1.18818},{"k":111,"p":1.18956},{"k":112,"p":1.18782},{"k":113,"p":1.18855},{"k":114,"p":1.18742},{"k":115.1,"p":1.18716},{"k":116.3,"p":1.18644},{"k":117.3,"p":1.18622},{"k":117.9,"p":1.18633},{"k":118.9,"p":1.18691},{"k":120,"p":1.18691},{"k":121,"p":1.18742},{"k":122,"p":1.18804},{"k":123,"p":1.18716},{"k":124,"p":1.1876},{"k":125,"p":1.18596},{"k":126.1,"p":1.18469},{"k":127.1,"p":1.18498},{"k":127.9,"p":1.18396},{"k":128.9,"p":1.18444},{"k":130,"p":1.18455},{"k":131,"p":1.18346},{"k":132,"p":1.18222},{"k":133,"p":1.18229},{"k":134,"p":1.18127},{"k":135,"p":1.18247},{"k":136.1,"p":1.18135},{"k":138.1,"p":1.18255},{"k":138.9,"p":1.18138},{"k":140,"p":1.18346},{"k":141,"p":1.18404},{"k":142,"p":1.18171},{"k":143,"p":1.18346},{"k":144,"p":1.18244},{"k":145,"p":1.18236},{"k":146.1,"p":1.18327},{"k":147.1,"p":1.1828},{"k":148.1,"p":1.1848},{"k":149.1,"p":1.18342},{"k":150.1,"p":1.18335},{"k":150.9,"p":1.1816},{"k":152,"p":1.18087},{"k":153,"p":1.1812},{"k":153.8,"p":1.18062},{"k":155,"p":1.17942},{"k":156,"p":1.17898},{"k":157.1,"p":1.17745},{"k":158.1,"p":1.18098},{"k":159.1,"p":1.18036},{"k":160.3,"p":1.18102},{"k":161.1,"p":1.18127},{"k":162.2,"p":1.1816},{"k":163.2,"p":1.18218},{"k":164,"p":1.18225},{"k":165,"p":1.18105},{"k":166,"p":1.18244},{"k":167.1,"p":1.18244},{"k":168.1,"p":1.18033},{"k":169.1,"p":1.18029},{"k":170.1,"p":1.18069},{"k":171.1,"p":1.18062},{"k":172,"p":1.18189},{"k":173.2,"p":1.18189},{"k":174,"p":1.18182},{"k":175,"p":1.18091},{"k":176.2,"p":1.18189},{"k":177.9,"p":1.18197},{"k":178.9,"p":1.18062},{"k":179.9,"p":1.17735},{"k":182,"p":1.17651},{"k":183,"p":1.17637},{"k":184.2,"p":1.17662},{"k":185.2,"p":1.17655},{"k":187,"p":1.17705},{"k":188.5,"p":1.17807},{"k":189.1,"p":1.17891},{"k":190.1,"p":1.17407},{"k":190.9,"p":1.1728},{"k":192.6,"p":1.17251},{"k":193.6,"p":1.17171},{"k":195.6,"p":1.17145},{"k":197,"p":1.17054},{"k":198.3,"p":1.17298},{"k":199.7,"p":1.17313},{"k":202.8,"p":1.17338},{"k":204,"p":1.17346},{"k":205,"p":1.17451},{"k":206,"p":1.17251},{"k":207.2,"p":1.17269},{"k":208.3,"p":1.17276}
],
"channel":[{"k":192.1,"top":1.18589,"mid":1.18269,"low":1.17957},{"k":266.2,"top":1.16498,"mid":1.16172,"low":1.15859}],
"levelsThick":[{"p":1.17889},{"p":1.17505}],
"levelsThin":[{"p":1.17319},{"p":1.17183},{"p":1.17002}],
"levelsDotted":[{"p":1.1909},{"p":1.16639}],
"lastPrice":[{"p":1.17272}],
"blueDraw":[
{"id":"a","k":-1.2,"p":1.19018},{"id":"a","k":44.9,"p":1.18985},
{"id":"b","k":65.1,"p":1.18964},{"id":"b","k":131,"p":1.19073},
{"id":"c","k":127.9,"p":1.19116},{"id":"c","k":131,"p":1.19073},
{"id":"c2","k":128.3,"p":1.19018},{"id":"c2","k":131,"p":1.19073},
{"id":"d","k":236,"p":1.17324},{"id":"d","k":238,"p":1.16669},
{"id":"e","k":235,"p":1.16713},{"id":"e","k":238,"p":1.16669},{"id":"e","k":240.9,"p":1.16724}
],
"pinkDraw":[
{"id":"a","k":240.1,"p":1.16658},{"id":"a","k":247,"p":1.16993},
{"id":"b","k":243.1,"p":1.1696},{"id":"b","k":247,"p":1.16993},{"id":"b","k":249.1,"p":1.16924},
{"id":"c","k":249.1,"p":1.1696},{"id":"c","k":252.1,"p":1.16524},
{"id":"d","k":248.9,"p":1.16564},{"id":"d","k":252.1,"p":1.16524},{"id":"d","k":254.8,"p":1.16582}
],
"down":[{"k":137.3,"p":1.19175},{"k":149.1,"p":1.18931},{"k":174,"p":1.18636},{"k":192.4,"p":1.18571},{"k":215.2,"p":1.17978},{"k":232.3,"p":1.17578},{"k":236,"p":1.17404},{"k":248,"p":1.17102}],
"up":[{"k":144,"p":1.18447},{"k":160.1,"p":1.17949},{"k":183,"p":1.17604},{"k":223.1,"p":1.16942},{"k":238,"p":1.16571}],
"orangeTags":[
{"t":"1.19090","p":1.19084,"top":1.19113,"bot":1.19055},{"t":"1.17889","p":1.17891,"top":1.17924,"bot":1.17862},{"t":"1.17505","p":1.17507,"top":1.17538,"bot":1.17477},{"t":"1.17319","p":1.17329,"top":1.1736,"bot":1.17298},{"t":"1.17183","p":1.17167,"top":1.17196,"bot":1.17138},{"t":"1.17002","p":1.17004,"top":1.17033,"bot":1.16971},{"t":"1.16639","p":1.16636,"top":1.16665,"bot":1.16607}
],
"blueTags":[
{"name":"Haut","t":"1.19090","k0":293.9,"kn":294.7,"p":1.19146,"top":1.19175,"bot":1.19113},
{"name":"Moy","t":"1.17807","k0":294.7,"kn":295.5,"p":1.17811,"top":1.1784,"bot":1.17778},
{"name":"Bas","t":"1.16639","k0":295.3,"kn":296.2,"p":1.16578,"top":1.16607,"bot":1.16549}
],
"lastTag":[{"t":"1.17272","left":"02:34:01","top":1.17306,"bot":1.17197,"pt":1.17277,"pl":1.17226}],
"usd":[{"t":"USD","p":1.19173,"top":1.19204,"bot":1.19142}],
"watermark1":[{"k":150.1,"p":1.18019,"t":"EURUSD, 3h"}],
"watermark2":[{"k":150,"p":1.17655,"t":"Euro / Dollar Américain"}],
"header":[{"k":0.43,"p":1.19164,"t":"Euro / Dollar Américain, 3h, FXCM"}],
"notes":[{"k":22.5,"p":1.18796,"t":"graphique en 3h baissier"},{"k":183.6,"p":1.18974,"t":"les plus hauts de moins en moins haut"},{"k":183.6,"p":1.18862,"t":"les plus bas de plus en plus bas"}],
"noteEt":[{"k":207.7,"p":1.18917,"t":"et"}],
"letterM":[{"k":52.4,"p":1.18982,"t":"M"}],
"ratio":[{"k":181.3,"p":1.17909,"t":"0.7951562923533061"}]
},
"encoding":{
"x":{"type":"quantitative","scale":{"domain":[-1.2034,301.26],"nice":false,"zero":false,"padding":0},
"axis":{"title":null,"values":[20,36,60,76,100,116,140,156,180,196,220,236,260,276,292],
"labelExpr":"['16','18','23','25','30','Sept','6','8','13','15','20','22','27','29','Oct'][indexof([20,36,60,76,100,116,140,156,180,196,220,236,260,276,292],datum.value)]",
"grid":true,"gridColor":"#e6e6e6","ticks":false,"domainColor":"#555555","labelColor":"#666666","labelFontSize":12,"labelPadding":7,"labelOverlap":false}},
"y":{"type":"quantitative","scale":{"domain":[1.164982,1.192255],"nice":false,"zero":false},
"axis":{"title":null,"orient":"right","values":[1.192,1.19,1.188,1.186,1.184,1.182,1.18,1.178,1.1765,1.175,1.1735,1.172,1.1705,1.169,1.1678,1.1666,1.1655],"format":".5f",
"grid":true,"gridColor":"#e6e6e6","ticks":false,"domainColor":"#555555","labelColor":"#666666","labelFontSize":11.5,"labelPadding":9,"labelOverlap":false}}
},
"layer":[
{"data":{"name":"watermark1"},"mark":{"type":"text","font":"Roboto","fontSize":96,"color":"#000000","opacity":0.1},"encoding":{"x":{"field":"k"},"y":{"field":"p"},"text":{"field":"t"}}},
{"data":{"name":"watermark2"},"mark":{"type":"text","font":"Roboto","fontSize":49,"color":"#000000","opacity":0.1},"encoding":{"x":{"field":"k"},"y":{"field":"p"},"text":{"field":"t"}}},
{"data":{"name":"cloud"},"mark":{"type":"area","opacity":0.2,"interpolate":"linear"},"encoding":{"x":{"field":"k"},"y":{"field":"a"},"y2":{"field":"b"},"detail":{"field":"seg"},
"color":{"field":"seg","type":"nominal","legend":null,"scale":{"domain":["bull0","bear1","bull1","bear2","bull2","bear3","fut"],"range":["#2e9a36","#7a6a3a","#2e9a36","#7a6a3a","#2e9a36","#7a6a3a","#f08078"]}}}},
{"data":{"name":"cloud"},"transform":[{"filter":"datum.seg!='fut'"}],"mark":{"type":"line","color":"#1b8f1b","strokeWidth":1.3},"encoding":{"x":{"field":"k"},"y":{"field":"a"}}},
{"data":{"name":"cloud"},"transform":[{"filter":"datum.seg!='fut'"}],"mark":{"type":"line","color":"#8e2a7e","strokeWidth":1.3},"encoding":{"x":{"field":"k"},"y":{"field":"b"}}},
{"data":{"name":"cloud"},"transform":[{"filter":"datum.seg=='fut'"}],"mark":{"type":"line","color":"#8cc48c","strokeWidth":1},"encoding":{"x":{"field":"k"},"y":{"field":"a"}}},
{"data":{"name":"cloud"},"transform":[{"filter":"datum.seg=='fut'"}],"mark":{"type":"line","color":"#f0948c","strokeWidth":1},"encoding":{"x":{"field":"k"},"y":{"field":"b"}}},
{"data":{"name":"chikou"},"mark":{"type":"line","color":"#1c8c6e","strokeWidth":1.3},"encoding":{"x":{"field":"k"},"y":{"field":"p"}}},
{"data":{"name":"kijun"},"mark":{"type":"line","color":"#2a1fd0","strokeWidth":1.3},"encoding":{"x":{"field":"k"},"y":{"field":"p"}}},
{"data":{"name":"tenkan"},"mark":{"type":"line","color":"#e0193c","strokeWidth":1.3},"encoding":{"x":{"field":"k"},"y":{"field":"p"}}},
{"data":{"name":"lastPrice"},"mark":{"type":"rule","color":"#3d8a5f","strokeWidth":1,"strokeDash":[1,3]},"encoding":{"x":{"datum":-1.2034},"x2":{"datum":301.26},"y":{"field":"p"}}},
{"data":{"name":"levelsThick"},"mark":{"type":"rule","color":"#ff9800","strokeWidth":1.5},"encoding":{"x":{"datum":-1.2034},"x2":{"datum":301.26},"y":{"field":"p"}}},
{"data":{"name":"levelsThin"},"mark":{"type":"rule","color":"#ff9800","strokeWidth":1},"encoding":{"x":{"datum":-1.2034},"x2":{"datum":301.26},"y":{"field":"p"}}},
{"data":{"name":"levelsDotted"},"mark":{"type":"rule","color":"#ff9800","strokeWidth":1,"strokeDash":[2,1]},"encoding":{"x":{"datum":-1.2034},"x2":{"datum":301.26},"y":{"field":"p"}}},
{"data":{"name":"candles"},"mark":{"type":"rule","color":"#6a6a6a","strokeWidth":1},"encoding":{"x":{"field":"i"},"y":{"field":"l"},"y2":{"field":"h"}}},
{"data":{"name":"candles"},"mark":{"type":"bar","size":3,"strokeWidth":0.9},"encoding":{"x":{"field":"i"},"y":{"field":"o"},"y2":{"field":"c"},
"color":{"condition":{"test":"datum.c>=datum.o","value":"#3b8a5f"},"value":"#c53d28"},
"stroke":{"condition":{"test":"datum.c>=datum.o","value":"#1f4d35"},"value":"#5c1a0c"}}},
{"data":{"name":"channel"},"mark":{"type":"area","color":"#2962ff","opacity":0.12,"clip":true},"encoding":{"x":{"field":"k"},"y":{"field":"top"},"y2":{"field":"mid"}}},
{"data":{"name":"channel"},"mark":{"type":"area","color":"#f44336","opacity":0.08,"clip":true},"encoding":{"x":{"field":"k"},"y":{"field":"mid"},"y2":{"field":"low"}}},
{"data":{"name":"channel"},"mark":{"type":"line","color":"#4a7df0","strokeWidth":1,"clip":true},"encoding":{"x":{"field":"k"},"y":{"field":"top"}}},
{"data":{"name":"channel"},"mark":{"type":"line","color":"#f4574a","strokeWidth":1,"clip":true},"encoding":{"x":{"field":"k"},"y":{"field":"mid"}}},
{"data":{"name":"channel"},"mark":{"type":"line","color":"#4a7df0","strokeWidth":1,"clip":true},"encoding":{"x":{"field":"k"},"y":{"field":"low"}}},
{"data":{"name":"blueDraw"},"mark":{"type":"line","color":"#2962ff","strokeWidth":3.2},"encoding":{"x":{"field":"k"},"y":{"field":"p"},"detail":{"field":"id"}}},
{"data":{"name":"pinkDraw"},"mark":{"type":"line","color":"#e91e63","strokeWidth":3},"encoding":{"x":{"field":"k"},"y":{"field":"p"},"detail":{"field":"id"}}},
{"data":{"name":"down"},"mark":{"type":"point","shape":"M-0.5,-1L0.5,-1L0.5,0L1,0L0,1L-1,0L-0.5,0Z","size":484,"filled":true,"color":"#e53935","opacity":1},"encoding":{"x":{"field":"k"},"y":{"field":"p"}}},
{"data":{"name":"up"},"mark":{"type":"point","shape":"M0,-1L1,0L0.5,0L0.5,1L-0.5,1L-0.5,0L-1,0Z","size":484,"filled":true,"color":"#009688","opacity":1},"encoding":{"x":{"field":"k"},"y":{"field":"p"}}},
{"data":{"name":"header"},"mark":{"type":"text","align":"left","font":"Open Sans","fontSize":12.7,"color":"#555555"},"encoding":{"x":{"field":"k"},"y":{"field":"p"},"text":{"field":"t"}}},
{"data":{"name":"notes"},"mark":{"type":"text","align":"left","font":"Noto Sans","fontWeight":"bold","fontSize":15,"color":"#2962ff"},"encoding":{"x":{"field":"k"},"y":{"field":"p"},"text":{"field":"t"}}},
{"data":{"name":"noteEt"},"mark":{"type":"text","font":"Noto Sans","fontWeight":"bold","fontSize":15,"color":"#2962ff"},"encoding":{"x":{"field":"k"},"y":{"field":"p"},"text":{"field":"t"}}},
{"data":{"name":"letterM"},"mark":{"type":"text","font":"Roboto","fontWeight":"bold","fontSize":35,"color":"#e91e63"},"encoding":{"x":{"field":"k"},"y":{"field":"p"},"text":{"field":"t"}}},
{"data":{"name":"ratio"},"mark":{"type":"text","align":"left","font":"Liberation Sans","fontSize":11,"color":"#2962ff"},"encoding":{"x":{"field":"k"},"y":{"field":"p"},"text":{"field":"t"}}},
{"data":{"values":[{"p":1.164982}]},"mark":{"type":"rule","color":"#555555","strokeWidth":1},"encoding":{"x":{"datum":301.26},"x2":{"datum":314.1},"y":{"field":"p"}}},
{"data":{"values":[{"p":1.164982,"q":1.16396}]},"mark":{"type":"rule","color":"#555555","strokeWidth":1},"encoding":{"x":{"datum":301.26},"y":{"field":"p"},"y2":{"field":"q"}}},
{"data":{"name":"orangeTags"},"mark":{"type":"rect","color":"#ff9800","cornerRadius":1},"encoding":{"x":{"datum":301.3},"x2":{"datum":312.3},"y":{"field":"top"},"y2":{"field":"bot"}}},
{"data":{"name":"orangeTags"},"mark":{"type":"text","align":"left","fontSize":11.5,"color":"#111111"},"encoding":{"x":{"datum":303.3},"y":{"field":"p"},"text":{"field":"t"}}},
{"data":{"name":"blueTags"},"mark":{"type":"rect","color":"#e3effd","cornerRadius":2},"encoding":{"x":{"field":"k0"},"x2":{"datum":312.3},"y":{"field":"top"},"y2":{"field":"bot"}}},
{"data":{"name":"blueTags"},"mark":{"type":"text","align":"left","fontSize":11.5,"color":"#222222"},"encoding":{"x":{"field":"kn"},"y":{"field":"p"},"text":{"field":"name"}}},
{"data":{"name":"blueTags"},"mark":{"type":"text","align":"left","fontSize":11.5,"color":"#333333"},"encoding":{"x":{"datum":303.3},"y":{"field":"p"},"text":{"field":"t"}}},
{"data":{"name":"lastTag"},"mark":{"type":"rect","color":"#6ba583","cornerRadius":2},"encoding":{"x":{"datum":301.3},"x2":{"datum":313.1},"y":{"field":"top"},"y2":{"field":"bot"}}},
{"data":{"name":"lastTag"},"mark":{"type":"text","align":"left","fontSize":11.5,"color":"#ffffff"},"encoding":{"x":{"datum":303.3},"y":{"field":"pt"},"text":{"field":"t"}}},
{"data":{"name":"lastTag"},"mark":{"type":"text","align":"left","fontSize":11.5,"color":"#dcebe2"},"encoding":{"x":{"datum":302.9},"y":{"field":"pl"},"text":{"field":"left"}}},
{"data":{"name":"usd"},"mark":{"type":"rect","color":"#ffffff","stroke":"#e2e2e2","cornerRadius":4},"encoding":{"x":{"datum":304.9},"x2":{"datum":310.4},"y":{"field":"top"},"y2":{"field":"bot"}}},
{"data":{"name":"usd"},"mark":{"type":"text","fontSize":11,"color":"#444444"},"encoding":{"x":{"datum":307.6},"y":{"field":"p"},"text":{"field":"t"}}}
]
}
